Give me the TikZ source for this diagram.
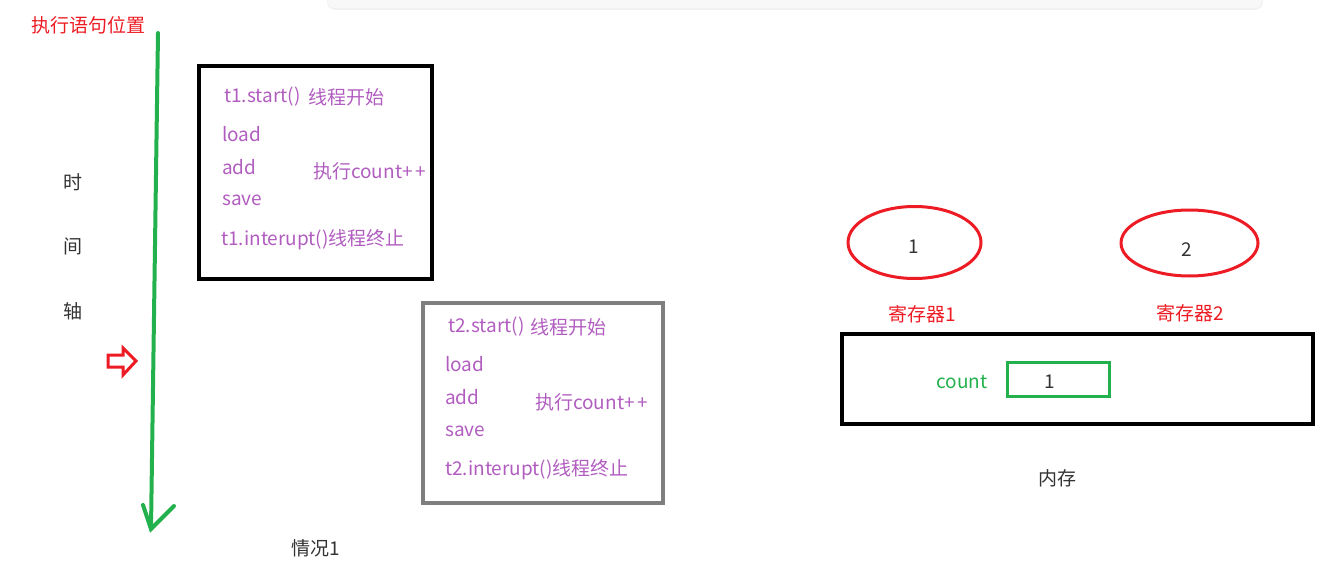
\documentclass[tikz,border=0pt]{standalone}
\usepackage{fontspec}
\setmainfont{Noto Sans CJK SC}
\usepackage{xcolor}
\usepackage{tikz}
\usetikzlibrary{shapes.geometric}
\definecolor{stmtpurple}{HTML}{B15DBF}
\definecolor{regred}{HTML}{ED1C24}
\definecolor{axisgreen}{HTML}{22B14C}
\definecolor{boxgray}{HTML}{7F7F7F}
\definecolor{inkdark}{HTML}{333333}
\definecolor{barbg}{HTML}{F8F8F8}

\begin{document}
\begin{tikzpicture}[
  x=1pt, y=-1pt,
  font=\fontsize{19}{22}\selectfont,
  stmt/.style={text=stmtpurple, anchor=west, inner sep=0pt},
  plain/.style={text=inkdark, inner sep=0pt},
  redtext/.style={text=regred, inner sep=0pt},
  reg/.style={ellipse, draw=regred, line width=3pt, minimum width=133pt, minimum height=72pt},
]
\useasboundingbox (0,0) rectangle (1335,567);
% window bar at the top
\fill[black!5, rounded corners=8pt] (327,-14) rectangle (1263,10);
\fill[barbg, rounded corners=8pt] (327,-14) rectangle (1262,8);

% time axis
\node[redtext] (where) at (88,25) {执行语句位置};
\coordinate (axtop) at (158,33);
\coordinate (axtip) at (151,529);
\coordinate (barbl) at (143,505);
\coordinate (barbr) at (174,506);
\draw[axisgreen, line width=4pt, line cap=round] (axtop) -- (axtip);
\draw[axisgreen, line width=4pt, line cap=round] (barbl) -- (axtip) -- (barbr);
\node[plain] (shi) at (73,182) {时};
\node[plain] (jian) at (73,246) {间};
\node[plain] (zhou) at (73,311) {轴};
\draw[regred, line width=3pt, line join=miter] (108,355) -- (123,355) -- (123,348) -- (136,361) -- (123,375) -- (123,367) -- (108,367) -- cycle;

% thread 1
\node[draw=black, line width=4pt, minimum width=233pt, minimum height=212pt] (t1box) at (315,172.5) {};
\node[stmt] (t1start) at (224,97) {t1.start()};
\node[stmt] (t1begin) at (308,97) {线程开始};
\node[stmt] (t1load) at (222,134) {load};
\node[stmt] (t1add) at (222,167) {add};
\node[stmt] (t1save) at (222,200) {save};
\node[stmt] (t1inc) at (313,171) {执行count+\,+};
\node[stmt] (t1stop) at (221,240) {t1.interupt()线程终止};

% thread 2
\node[draw=boxgray, line width=4pt, minimum width=240pt, minimum height=200pt] (t2box) at (542.5,402.5) {};
\node[stmt] (t2start) at (448,327) {t2.start()};
\node[stmt] (t2begin) at (530,327) {线程开始};
\node[stmt] (t2load) at (445,364) {load};
\node[stmt] (t2add) at (445,397) {add};
\node[stmt] (t2save) at (445,431) {save};
\node[stmt] (t2inc) at (535,402) {执行count+\,+};
\node[stmt] (t2stop) at (445,470) {t2.interupt()线程终止};

\node[plain] (case) at (316,548) {情况1};

% registers and memory
\node[reg] (reg1) at (914.5,242.5) {};
\node[plain] (reg1val) at (914,247) {1};
\node[reg, minimum width=137pt, minimum height=66pt] (reg2) at (1189.5,243) {};
\node[plain] (reg2val) at (1187,250) {2};
\node[redtext] (reg1lbl) at (922,314) {寄存器1};
\node[redtext] (reg2lbl) at (1190,313) {寄存器2};
\node[draw=black, line width=4pt, minimum width=471pt, minimum height=90pt] (mem) at (1077.5,379) {};
\node[text=axisgreen, inner sep=0pt] (cntlbl) at (962,382) {count};
\node[draw=axisgreen, line width=3pt, minimum width=102pt, minimum height=34pt] (cntbox) at (1058,379) {};
\node[plain] (cntval) at (1050,382) {1};
\node[plain] (memlbl) at (1057,478) {内存};
\end{tikzpicture}
\end{document}
